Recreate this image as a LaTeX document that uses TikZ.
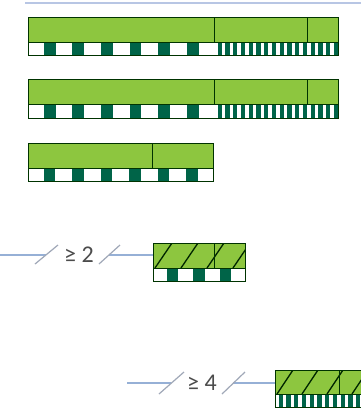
\documentclass[tikz,border=0pt]{standalone}
\usepackage{fontspec}
\setmainfont{Carlito}
\definecolor{lgreen}{RGB}{141,198,63}
\definecolor{dgreen}{RGB}{0,100,72}
\definecolor{rulecol}{RGB}{184,198,228}
\definecolor{wirecol}{RGB}{150,176,214}
\definecolor{tickcol}{RGB}{160,168,184}

\begin{document}
\begin{tikzpicture}[x=1pt,y=-1pt,
  grn/.style  ={fill=lgreen},
  edge/.style ={draw=green!20!black, line width=1pt},
  dk/.style   ={fill=dgreen},
  hatch/.style={draw=green!15!black, line width=1.3pt},
  wire/.style ={draw=wirecol, line width=1.3pt},
  tick/.style ={draw=tickcol, line width=1.2pt},
  lbl/.style  ={font=\fontsize{24}{24}\selectfont, text=black!70}]

  \clip (0,0) rectangle (361,410);
  \fill[white] (0,0) rectangle (361,410);

  % ---------------- top rule ----------------
  \coordinate (r0) at (25,3); \coordinate (r1) at (361,3);
  \draw[draw=rulecol, line width=2pt] (r0) -- (r1);

  % ---------------- bar 1 : coarse | fine ----------------
  \fill[grn] (28,17) rectangle (338,42);
  \foreach \i in {1,3,...,11} \fill[dk] ({28+\i*14.31+1.5},42) rectangle ({28+(\i+1)*14.31-1},55);
  \foreach \i in {0,...,15}   \fill[dk] ({214+\i*7.75+3.5},42) rectangle ({214+(\i+1)*7.75},55);
  \draw[edge] (28,17) rectangle (338,42);  \draw[edge] (28,42) rectangle (338,55);
  \draw[edge] (214,17) -- (214,42);  \draw[edge] (307,17) -- (307,42);

  % ---------------- bar 2 : coarse | fine ----------------
  \fill[grn] (28,79) rectangle (338,104);
  \foreach \i in {1,3,...,11} \fill[dk] ({28+\i*14.31+1.5},104) rectangle ({28+(\i+1)*14.31-1},118);
  \foreach \i in {0,...,15}   \fill[dk] ({214+\i*7.75+3.5},104) rectangle ({214+(\i+1)*7.75},118);
  \draw[edge] (28,79) rectangle (338,104);  \draw[edge] (28,104) rectangle (338,118);
  \draw[edge] (214,79) -- (214,104);  \draw[edge] (307,79) -- (307,104);

  % ---------------- bar 3 : coarse only ----------------
  \fill[grn] (28,143) rectangle (213,168);
  \foreach \i in {1,3,...,11} \fill[dk] ({28+\i*14.23+1.5},168) rectangle ({28+(\i+1)*14.23-1},181);
  \draw[edge] (28,143) rectangle (213,168);  \draw[edge] (28,168) rectangle (213,181);
  \draw[edge] (152,143) -- (152,168);

  % ---------------- >= 2 line + hatched coarse bar ----------------
  \coordinate (w2a) at (0,255);  \coordinate (t2a) at (46,255);
  \coordinate (t2b) at (109,255); \coordinate (b4) at (153,255);
  \node[lbl] (ge2) at (79,255) {≥ 2};
  \draw[wire] (w2a) -- (t2a);  \draw[wire] (t2b) -- (b4);
  \draw[tick] (t2a) ++(-11,9) -- ++(23,-19);
  \draw[tick] (t2b) ++(-10,9) -- ++(21,-19);

  \fill[grn] (153,243) rectangle (245,268);
  \begin{scope}
    \clip (153,243) rectangle (245,268);
    \foreach \x in {129,155,...,259} \draw[hatch] (\x,268) -- ++(17,-25);
  \end{scope}
  \foreach \i in {1,3,5} \fill[dk] ({153+\i*13.14+1},268) rectangle ({153+(\i+1)*13.14-1},281);
  \draw[edge] (153,243) rectangle (245,268);  \draw[edge] (153,268) rectangle (245,281);
  \draw[edge] (214,243) -- (214,268);

  % ---------------- >= 4 line + hatched fine bar ----------------
  \coordinate (w4a) at (127,383); \coordinate (t4a) at (171,383);
  \coordinate (t4b) at (233,383); \coordinate (b5) at (275,383);
  \node[lbl] (ge4) at (202,383) {≥ 4};
  \draw[wire] (w4a) -- (t4a);  \draw[wire] (t4b) -- (b5);
  \draw[tick] (t4a) ++(-12,11) -- ++(25,-22);
  \draw[tick] (t4b) ++(-11,11) -- ++(23,-22);

  \fill[grn] (275,370) rectangle (367,394);
  \begin{scope}
    \clip (275,370) rectangle (367,394);
    \foreach \x in {252,277,...,377} \draw[hatch] (\x,394) -- ++(16,-24);
  \end{scope}
  \foreach \i in {0,...,11} \fill[dk] ({275+\i*7.75+3.5},394) rectangle ({275+(\i+1)*7.75},407);
  \draw[edge] (275,370) rectangle (367,394);  \draw[edge] (275,394) rectangle (367,407);
  \draw[edge] (339,370) -- (339,394);
\end{tikzpicture}
\end{document}
